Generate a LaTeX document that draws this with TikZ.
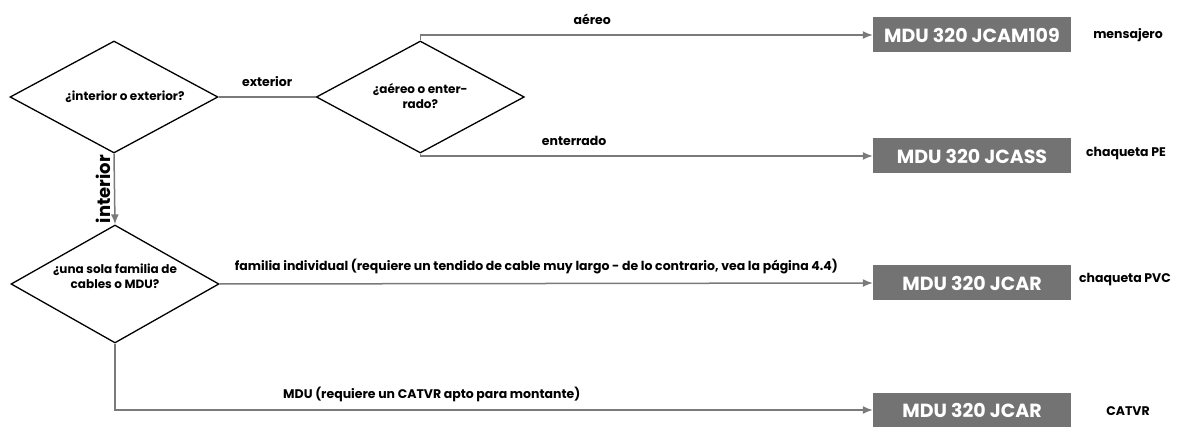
\documentclass[tikz,border=0pt]{standalone}
\usepackage{fontspec}
\setmainfont{Poppins}
\usepackage{tikz}
\usetikzlibrary{arrows.meta,shapes.geometric,positioning}
\definecolor{boxgray}{HTML}{737373}
\definecolor{linegray}{HTML}{7A7A7A}
\tikzset{ % decision, cable box and line styles
    decision/.style={diamond, draw=black, line width=1.3pt, fill=white, inner sep=0pt, minimum width=208pt, minimum height=112pt},
    dtext/.style={align=center, inner sep=0pt, font=\bfseries\fontsize{12}{15}\selectfont},
    cablebox/.style={rectangle, fill=boxgray, text=white, minimum width=198pt, minimum height=35pt, font=\bfseries\fontsize{19}{21}\selectfont},
    line/.style={draw=linegray, line width=1.5pt},
    arrowline/.style={line, -{Latex[length=10pt,width=8pt]}},
    lbl/.style={font=\bfseries\fontsize{12.5}{15}\selectfont, text=black}
}
\begin{document}
\begin{tikzpicture}[x=1pt, y=-1pt]
	\useasboundingbox (0,0) rectangle (1177,427);
	%Nodes
	\node[decision, label={[dtext, xshift=11pt]center:¿interior o exterior?}] (d1) at (114,97) {};
	\node[decision, right=97pt of d1, label={[dtext, yshift=1pt]center:{¿aéreo o enter-\\rado?}}] (d2) {};
	\node[decision, minimum height=118pt, label={[dtext, yshift=8pt]center:{¿una sola familia de\\cables o MDU?}}] (d3) at (115,284) {};
	\node[cablebox] (b1) at (972,35) {MDU 320 JCAM109};
	\node[cablebox] (b2) at (972,156) {MDU 320 JCASS};
	\node[cablebox] (b3) at (972,283) {MDU 320 JCAR};
	\node[cablebox] (b4) at (972,410) {MDU 320 JCAR};
	\node[lbl] (t1) at (1128,35) {mensajero};
	\node[lbl] (t2) at (1126,154) {chaqueta PE};
	\node[lbl] (t3) at (1125,280) {chaqueta PVC};
	\node[lbl] (t4) at (1128,411) {CATVR};
	%Edges
	\draw [line] (d1.east) -- (d2.west) node [midway, above=6pt, lbl] {exterior};
	\draw [arrowline] (d2.north) |- (b1.west) node [pos=0.69, above=6pt, lbl] {aéreo};
	\draw [arrowline] (d2.south) |- (b2.west) node [pos=0.67, above=6pt, lbl] {enterrado};
	\draw [arrowline] (d1.south) -- (d3.north) node [midway, anchor=south, rotate=90, inner sep=3pt, lbl, font=\bfseries\fontsize{18}{20}\selectfont] {interior};
	\draw [arrowline] (d3.east) -- (b3.west) node [pos=0.485, above=5pt, lbl] {familia individual (requiere un tendido de cable muy largo - de lo contrario, vea la página 4.4)};
	\draw [arrowline] (d3.south) |- (b4.west) node [pos=0.709, above=4pt, lbl] {MDU (requiere un CATVR apto para montante)};
\end{tikzpicture}
\end{document}
